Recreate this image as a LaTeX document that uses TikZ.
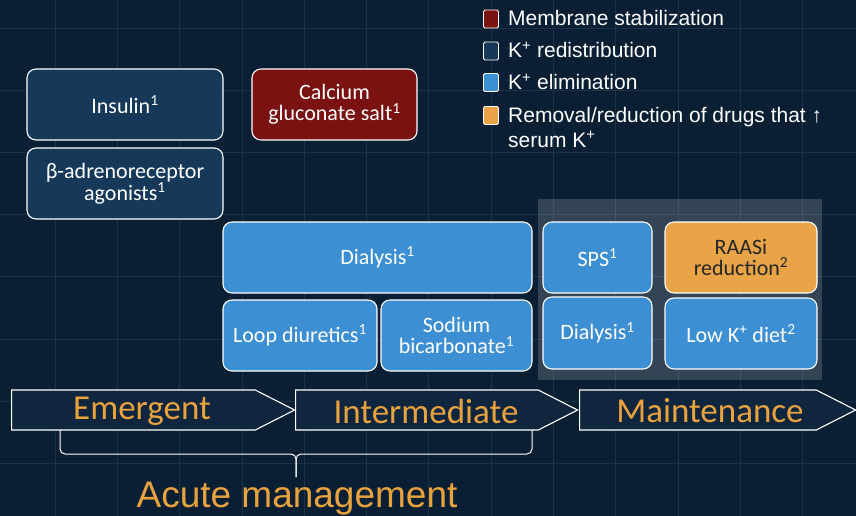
\documentclass[tikz,border=0pt]{standalone}
\usepackage{fontspec}
\setmainfont{Liberation Sans}
\newfontfamily\carlito{Carlito}
\usetikzlibrary{shapes.symbols}

\definecolor{bgnavy}{HTML}{0A1F33}
\definecolor{gridline}{HTML}{1A3349}
\definecolor{redistblue}{HTML}{163959}
\definecolor{membred}{HTML}{7A1212}
\definecolor{elimblue}{HTML}{3D8FD4}
\definecolor{drugorange}{HTML}{E8A446}
\definecolor{stagefill}{HTML}{10263E}
\definecolor{stagetext}{HTML}{E8A33E}

\tikzstyle{box}=[draw=white, line width=1.1pt, rounded corners=9pt, text=white, align=center, inner sep=0pt, font=\carlito\fontsize{22}{21}\selectfont]
\tikzstyle{redist}=[box, fill=redistblue, minimum width=196pt, minimum height=71pt]
\tikzstyle{membrane}=[box, fill=membred]
\tikzstyle{elim}=[box, fill=elimblue]
\tikzstyle{drug}=[box, fill=drugorange, text=black!85]
\tikzstyle{stage}=[signal, signal to=east, signal from=nowhere, signal pointer angle=54, draw=white, line width=1.1pt, fill=stagefill, minimum height=40pt, inner sep=0pt, anchor=west]
\tikzstyle{stagelabel}=[text=stagetext, font=\carlito\fontsize{35}{35}\selectfont, inner sep=0pt]
\tikzstyle{legsquare}=[draw=white!85, line width=0.9pt, rounded corners=1.5pt, minimum width=15pt, minimum height=18pt, inner sep=0pt]
\tikzstyle{legtext}=[anchor=base west, text=white, inner sep=0pt, align=left, font=\fontsize{21}{25}\selectfont]

\begin{document}
\begin{tikzpicture}[x=1pt, y=-1pt]
      \useasboundingbox (0,0) rectangle (856,516);
      \fill[bgnavy] (0,0) rectangle (856,516);
      \foreach \gx in {0,...,13} \draw[gridline, line width=0.8pt] (55+62.3*\gx,0) -- (55+62.3*\gx,516);
      \foreach \gy in {0,...,7} \draw[gridline, line width=0.8pt] (0,28+62.2*\gy) -- (856,28+62.2*\gy);

      % maintenance panel
      \fill[white, fill opacity=0.17] (538,199) rectangle (822,380);

      % legend
      \node[legsquare, fill=membred] (legred) at (491,19) {};
      \node[legsquare, fill=redistblue] (legdark) at (491,51) {};
      \node[legsquare, fill=elimblue] (legblue) at (491,82.5) {};
      \node[legsquare, fill=drugorange] (legorange) at (491,115.5) {};
      \node[legtext] (legredtxt) at (508,26) {Membrane stabilization};
      \node[legtext] (legdarktxt) at (508,58) {K\textsuperscript{+} redistribution};
      \node[legtext] (legbluetxt) at (508,90) {K\textsuperscript{+} elimination};
      \node[legtext] (legorangetxt) at (508,147) {Removal/reduction of drugs that ↑\\serum K\textsuperscript{+}};

      % emergent therapies
      \node[redist] (insulin) at (125,104.5) {Insulin\textsuperscript{1}};
      \node[redist] (beta) at (125,183.5) {β-adrenoreceptor\\agonists\textsuperscript{1}};
      \node[membrane, minimum width=165pt, minimum height=71pt] (calcium) at (334.5,104.5) {Calcium\\gluconate salt\textsuperscript{1}};

      % intermediate therapies
      \node[elim, minimum width=309pt, minimum height=71pt] (dialysisA) at (377.5,257.5) {Dialysis\textsuperscript{1}};
      \node[elim, minimum width=154pt, minimum height=71pt] (loop) at (300,335.5) {Loop diuretics\textsuperscript{1}};
      \node[elim, minimum width=151pt, minimum height=71pt] (bicarb) at (456.5,335.5) {Sodium\\bicarbonate\textsuperscript{1}};

      % maintenance therapies
      \node[elim, minimum width=109pt, minimum height=71pt] (sps) at (597.5,257.5) {SPS\textsuperscript{1}};
      \node[drug, minimum width=152pt, minimum height=71pt] (raasi) at (741,257.5) {RAASi\\reduction\textsuperscript{2}};
      \node[elim, minimum width=109pt, minimum height=72pt] (dialysisB) at (597.5,333) {Dialysis\textsuperscript{1}};
      \node[elim, minimum width=152pt, minimum height=71pt] (diet) at (741,333.5) {Low K\textsuperscript{+} diet\textsuperscript{2}};

      % timeline
      \node[stage, minimum width=283pt] (emergent) at (11,410) {};
      \node[stage, minimum width=282pt] (intermediate) at (295,410) {};
      \node[stage, minimum width=276pt] (maintenance) at (579,410) {};
      \node[stagelabel] (emergenttxt) at (142,411) {Emergent};
      \node[stagelabel] (intermediatetxt) at (426,411) {Intermediate};
      \node[stagelabel] (maintenancetxt) at (710,411) {Maintenance};

      % acute brace
      \coordinate (braceL) at (60,430);
      \coordinate (braceR) at (532,430);
      \coordinate (braceMid) at (296,454);
      \coordinate (braceTip) at (296,477);
      \draw[white!85, line width=1pt, rounded corners=5pt] (braceL) |- (braceMid) -- (braceTip);
      \draw[white!85, line width=1pt, rounded corners=5pt] (braceR) |- (braceMid) -- (braceTip);
      \node[anchor=base, text=stagetext, inner sep=0pt, font=\fontsize{37}{37}\selectfont] (acute) at (297,507) {Acute management};
    \end{tikzpicture}
\end{document}
